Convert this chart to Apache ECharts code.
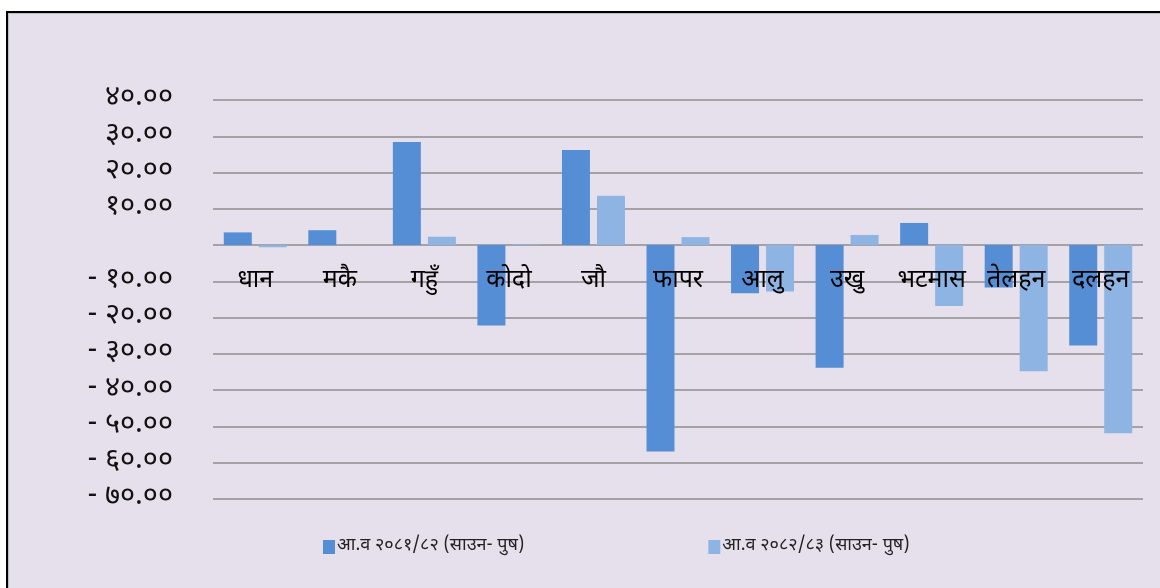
<!DOCTYPE html>
<html>
<head>
<meta charset="utf-8">
<script src="https://cdn.jsdelivr.net/npm/echarts@6/dist/echarts.min.js"></script>
<style>
html,body{margin:0;padding:0;background:#fff;width:1160px;height:588px;overflow:hidden;}
#frame{position:absolute;left:6px;top:11px;width:1170px;height:600px;border:2px solid #000;background:#E6E0EC;box-shadow:inset 1px 1px 0 #bdbdbd;}
#chart{position:absolute;left:0;top:0;width:1160px;height:588px;}
</style>
</head>
<body>
<div id="frame"></div>
<div id="chart"></div>
<script>
const categories = ['धान','मकै','गहुँ','कोदो','जौ','फापर','आलु','उखु','भटमास','तेलहन','दलहन'];
const seriesNames = ['आ.व २०८१/८२ (साउन- पुष)','आ.व २०८२/८३ (साउन- पुष)'];
const fy2081 = [3.5, 4.1, 28.4, -22.2, 26.2, -56.9, -13.3, -33.8, 6.1, -11.7, -27.7];
const fy2082 = [-0.6, 0, 2.3, 0.2, 13.6, 2.2, -12.8, 2.8, -16.8, -34.8, -51.9];
const yTickLabels = {'40':'४०.००','30':'३०.००','20':'२०.००','10':'१०.००','0':'','-10':'- १०.००','-20':'- २०.००','-30':'- ३०.००','-40':'- ४०.००','-50':'- ५०.००','-60':'- ६०.००','-70':'- ७०.००'};

const FONT = '"Noto Sans Devanagari","Lohit Devanagari","Noto Serif Devanagari",sans-serif';
const chart = echarts.init(document.getElementById('chart'), null, {renderer:'canvas'});
chart.setOption({
  backgroundColor:'transparent',
  animation:false,
  textStyle:{fontFamily:FONT},
  grid:{left:213, right:17, top:100, bottom:89, containLabel:false},
  legend:{
    data:seriesNames, left:318, top:533, itemWidth:12, itemHeight:14, itemGap:184,
    icon:'rect',
    textStyle:{fontFamily:FONT, fontSize:18, color:'#222', padding:[0,0,0,-3]}
  },
  xAxis:{
    type:'category', data:categories, position:'bottom', offset:-254,
    axisLine:{show:false, onZero:false},
    axisTick:{show:false},
    axisLabel:{fontFamily:FONT, fontSize:25, color:'#000', margin:25, interval:0},
    z:10
  },
  yAxis:{
    type:'value', min:-70, max:40, interval:10,
    axisLine:{show:false}, axisTick:{show:false},
    splitLine:{lineStyle:{color:'#8e8e8e', width:1.5}},
    axisLabel:{fontFamily:FONT, fontSize:29, color:'#111', margin:40, padding:[4,0,0,0],
      formatter:function(v){ const k=String(Math.round(v)); return yTickLabels[k]!==undefined?yTickLabels[k]:''; }}
  },
  series:[
    {name:seriesNames[0], type:'bar', data:fy2081, barWidth:28, barGap:'25%',
     itemStyle:{color:'#558ED5'}},
    {name:seriesNames[1], type:'bar', data:fy2082, barWidth:28, barGap:'25%',
     itemStyle:{color:'#8EB4E3'}}
  ]
});
</script>
</body>
</html>
